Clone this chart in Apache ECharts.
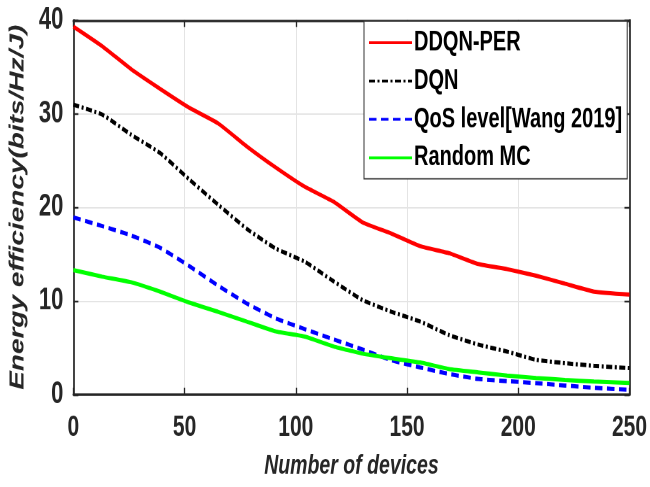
<!DOCTYPE html>
<html>
<head>
<meta charset="utf-8">
<script src="https://cdn.jsdelivr.net/npm/echarts@6/dist/echarts.min.js"></script>
<style>
  html, body { margin: 0; padding: 0; background: #fff; }
  #frame { width: 650px; height: 487px; overflow: hidden; }
  /* the figure is drawn at a squat size and stretched vertically, giving the tall, condensed lettering */
  #chart { width: 650px; height: 348px; transform: scaleY(1.3994); transform-origin: 0 0; }
</style>
</head>
<body>
<div id="frame"><div id="chart"></div></div>
<script>
// Number of devices sampled along the x axis
const devices = [0, 13, 26, 39, 52, 65, 78, 91, 104, 117, 130, 143, 156, 169, 182, 195, 208, 221, 234, 250];

// Energy efficiency (bits/Hz/J) per scheme
const ddqnPer = [39.3, 37.2, 34.75, 32.65, 30.65, 28.98, 26.5, 24.25, 22.2, 20.6, 18.4, 17.2, 15.85, 15.1, 13.95, 13.4, 12.7, 11.85, 11.0, 10.68];
const dqn     = [30.97, 29.9, 27.75, 25.8, 23.0, 20.3, 17.7, 15.6, 14.2, 12.1, 10.1, 8.85, 7.8, 6.35, 5.35, 4.6, 3.72, 3.36, 3.08, 2.83];
const qosWang = [18.93, 18.0, 17.0, 15.68, 13.75, 11.65, 9.73, 8.15, 7.0, 5.9, 4.83, 3.67, 2.9, 2.2, 1.68, 1.44, 1.23, 0.98, 0.73, 0.52];
const randomMc = [13.3, 12.6, 12.0, 11.0, 9.84, 8.85, 7.8, 6.75, 6.2, 5.15, 4.38, 3.88, 3.43, 2.73, 2.38, 2.03, 1.78, 1.57, 1.4, 1.26];

const seriesNames = ['DDQN-PER', 'DQN', 'QoS level[Wang 2019]', 'Random MC'];

const xTicks = [0, 50, 100, 150, 200, 250];
const yTicks = [0, 10, 20, 30, 40];

const FONT = "'Liberation Sans', Arial, sans-serif";
const AXIS_COLOR = '#262626';
const GRID_COLOR = '#e4e4e4';

function pairs(ys) {
  return devices.map((x, i) => [x, ys[i]]);
}

function lineSeries(name, ys, color, type) {
  return {
    name: name,
    type: 'line',
    data: pairs(ys),
    showSymbol: false,
    symbol: 'none',
    smooth: 0.15,
    lineStyle: { color: color, width: 3, type: type },
    itemStyle: { color: color },
    emphasis: { disabled: true }
  };
}

const axisLine = { show: true, onZero: false, lineStyle: { color: AXIS_COLOR, width: 1.7 } };
const axisTick = { show: true, inside: true, length: 5, lineStyle: { color: AXIS_COLOR, width: 1.3 } };

// Mirror axes on top and right close the box
const mirrorAxis = {
  type: 'value',
  axisLine: axisLine,
  axisTick: axisTick,
  splitLine: { show: false },
  axisLabel: { show: false }
};

const chart = echarts.init(document.getElementById('chart'), null, { renderer: 'canvas', devicePixelRatio: 2 });

chart.setOption({
  animation: false,
  backgroundColor: '#fff',
  grid: { left: 67, right: 20, top: 14.3, bottom: 61.6, containLabel: false },
  legend: {
    data: seriesNames,
    orient: 'vertical',
    left: 364,
    top: 15,
    padding: [5.5, 5, 5, 4],
    itemWidth: 43,
    itemHeight: 20,
    itemGap: 7.4,
    backgroundColor: '#fff',
    borderColor: '#333',
    borderWidth: 1,
    borderRadius: 0,
    itemStyle: { opacity: 0, borderWidth: 0 },
    textStyle: { fontFamily: FONT, fontWeight: 'bold', fontSize: 20, color: '#000', padding: [0, 0, 0, -3] },
    selectedMode: false
  },
  xAxis: [
    {
      type: 'value',
      min: 0, max: 250, interval: 50,
      position: 'bottom',
      name: 'Number of devices',
      nameLocation: 'middle',
      nameGap: 41,
      nameTextStyle: { fontFamily: FONT, fontWeight: 'bold', fontStyle: 'italic', fontSize: 19.5, color: AXIS_COLOR },
      axisLine: axisLine,
      axisTick: axisTick,
      splitLine: { show: true, lineStyle: { color: GRID_COLOR, width: 1 } },
      axisLabel: {
        margin: 13,
        fontFamily: FONT, fontWeight: 'bold', fontSize: 21, color: AXIS_COLOR,
        formatter: v => xTicks.includes(v) ? String(v) : ''
      }
    },
    Object.assign({}, mirrorAxis, { min: 0, max: 250, interval: 50, position: 'top' })
  ],
  yAxis: [
    {
      type: 'value',
      min: 0, max: 40, interval: 10,
      position: 'left',
      name: 'Energy efficiency(bits/Hz/J)',
      nameLocation: 'middle',
      nameGap: 37,
      nameTextStyle: { fontFamily: FONT, fontWeight: 'bold', fontStyle: 'italic', fontSize: 20, color: AXIS_COLOR },
      axisLine: axisLine,
      axisTick: axisTick,
      splitLine: { show: true, lineStyle: { color: GRID_COLOR, width: 1 } },
      axisLabel: {
        margin: 10,
        fontFamily: FONT, fontWeight: 'bold', fontSize: 22, color: AXIS_COLOR,
        formatter: v => yTicks.includes(v) ? String(v) : ''
      }
    },
    Object.assign({}, mirrorAxis, { min: 0, max: 40, interval: 10, position: 'right' })
  ],
  series: [
    lineSeries(seriesNames[0], ddqnPer, '#ff0000', 'solid'),
    lineSeries(seriesNames[1], dqn, '#000000', [6, 2.5, 2, 2.5]),
    lineSeries(seriesNames[2], qosWang, '#0000ff', [7.5, 4.5]),
    lineSeries(seriesNames[3], randomMc, '#00ff00', 'solid')
  ]
});
</script>
</body>
</html>
